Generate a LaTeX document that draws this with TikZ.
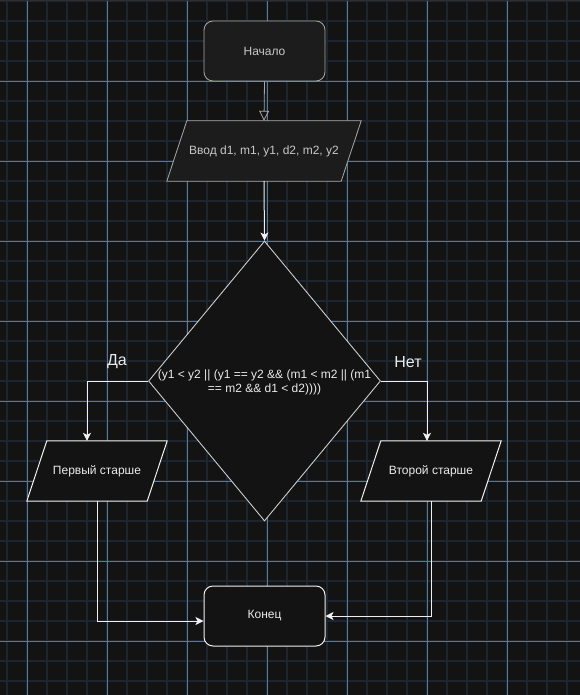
\documentclass[tikz,border=0pt]{standalone}
\usepackage{fontspec}
\setmainfont{Liberation Sans}
\usetikzlibrary{shapes.geometric,arrows.meta}
\pgfdeclarelayer{bg}
\pgfsetlayers{bg,main}
\definecolor{bgc}{HTML}{131313}
\definecolor{topc}{HTML}{2E2E2E}
\definecolor{minorc}{HTML}{1D2630}
\definecolor{majorc}{HTML}{5B7895}
\definecolor{softfill}{HTML}{1C1C1C}
\definecolor{softline}{HTML}{A8A8A8}
\definecolor{softtext}{HTML}{C8C8C8}
\definecolor{brightline}{HTML}{F0F0F0}
\definecolor{brighttext}{HTML}{EBEBEB}
\newcommand\drawpara[3]{%
  \begin{pgfonlayer}{bg}
    \draw[#2] ([xshift=#3]#1.north west) -- (#1.north east) -- ([xshift=-#3]#1.south east) -- (#1.south west) -- cycle;
  \end{pgfonlayer}}
\begin{document}
\begin{tikzpicture}[x=1pt,y=-1pt,
  txt/.style={font=\fontsize{12}{14}\selectfont},
  softbox/.style={rectangle, rounded corners=9pt, draw=softline, fill=softfill, text=softtext, line width=0.8pt, minimum width=121pt, minimum height=60pt, inner sep=0pt, txt},
  brightbox/.style={rectangle, rounded corners=9pt, draw=brightline, fill=bgc, text=brighttext, line width=1pt, minimum width=121pt, minimum height=60pt, inner sep=0pt, txt},
  iobox/.style={rectangle, minimum height=60pt, inner sep=0pt, txt},
  softpara/.style={draw=softline, fill=softfill, line width=0.8pt},
  brightpara/.style={draw=brightline, fill=bgc, line width=1pt},
  decision/.style={diamond, draw=brightline!85!black, fill=bgc, line width=0.9pt, minimum width=232pt, minimum height=280pt, inner sep=0pt},
  softarrow/.style={draw=softline, line width=0.8pt, -{Triangle[open, length=10pt, width=10pt]}},
  brightarrow/.style={draw=brightline, line width=1pt, -{Stealth[length=8pt, width=8pt, inset=2pt]}},
  branchlabel/.style={text=brighttext, font=\fontsize{16}{18}\selectfont, inner sep=0pt}
]
\useasboundingbox (0,0) rectangle (580,695);
\begin{pgfonlayer}{bg}
  \fill[bgc] (0,0) rectangle (580,695);
  \foreach \x in {7,27,...,567} \draw[minorc, line width=1.3pt] (\x,0) -- (\x,695);
  \foreach \y in {1,21,...,681} \draw[minorc, line width=1.3pt] (0,\y) -- (580,\y);
  \foreach \x in {27,107,...,507} \draw[majorc, line width=0.9pt] (\x,0) -- (\x,695);
  \foreach \y in {81,161,...,641} \draw[majorc, line width=0.9pt] (0,\y) -- (580,\y);
  \fill[topc] (0,0) rectangle (580,1.5);
\end{pgfonlayer}

\node[softbox] (start) at (264.5,51) {Начало};
\node[iobox, minimum width=194pt, text=softtext] (input) at (264,151) {Ввод d1, m1, y1, d2, m2, y2};
\drawpara{input}{softpara}{20pt}
\node[decision] (cond) at (264.5,381) {};
\node[txt, text=brighttext, align=center, inner sep=0pt] (condtext) at (264.5,382) {(y1 < y2 || (y1 == y2 \&\& (m1 < m2 || (m1\\[0pt]== m2 \&\& d1 < d2))))};
\node[iobox, minimum width=140pt, text=brighttext] (first) at (97,471) {Первый старше};
\drawpara{first}{brightpara}{20pt}
\node[iobox, minimum width=140pt, text=brighttext] (second) at (431,471) {Второй старше};
\drawpara{second}{brightpara}{20pt}
\node[brightbox] (finish) at (264.5,616) {Конец};

\node[branchlabel] (yes) at (117,362) {Да};
\node[branchlabel] (no) at (408,362) {Нет};

\draw[softarrow] (start.south) -- (input.north);
\draw[brightarrow] (input.south) -- (cond.north);
\draw[brightarrow] (cond.west) -| ([xshift=-10pt]first.north);
\draw[brightarrow] (cond.east) -| ([xshift=-4pt]second.north);
\draw[brightarrow] (first.south) |- ([yshift=-5pt]finish.west);
\draw[brightarrow] (second.south) |- (finish.east);
\end{tikzpicture}
\end{document}
